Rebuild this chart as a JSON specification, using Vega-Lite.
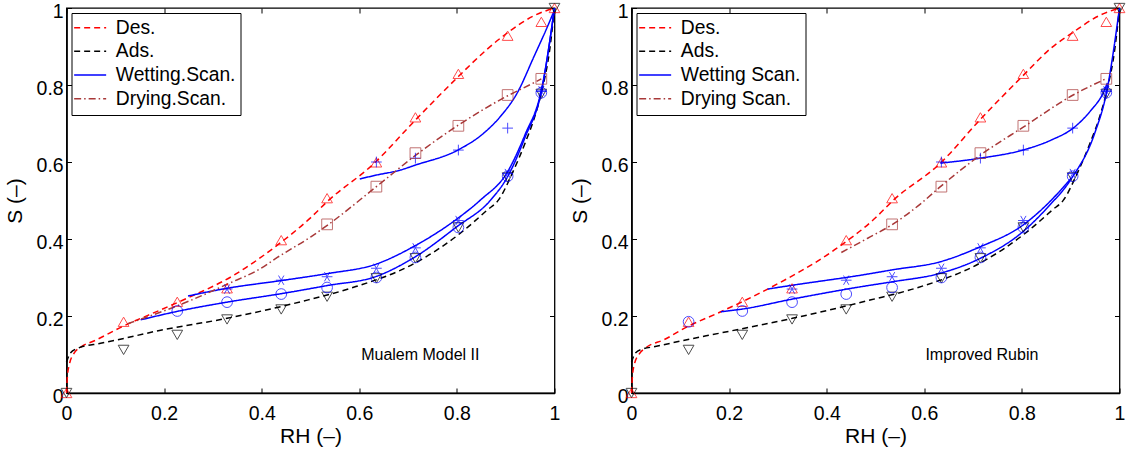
{
 "$schema": "https://vega.github.io/schema/vega-lite/v6.json",
 "background": "white",
 "padding": {"left": 3.5, "top": 0, "right": 5, "bottom": 0},
 "config": {
  "font": "Liberation Sans",
  "view": {"stroke": "black", "strokeWidth": 1.3},
  "axis": {"grid": false, "domainColor": "black", "domainWidth": 1.6, "tickColor": "black", "tickWidth": 1, "tickSize": -5, "labelColor": "black", "labelFontSize": 19.5, "labelFont": "Liberation Sans", "titleFont": "Liberation Sans", "titleFontSize": 21, "titleFontWeight": "normal", "titleColor": "black", "labelFlush": false, "labelOverlap": false},
  "legend": {"orient": "top-left", "offset": 5, "padding": 5, "strokeColor": "black", "fillColor": "white", "cornerRadius": 0, "labelFontSize": 19.3, "labelFont": "Liberation Sans", "labelColor": "black", "labelLimit": 400, "rowPadding": 3.7, "symbolStrokeWidth": 1.5}
 },
 "datasets": {
  "lines": [
   {"p":"L","s":"Des.","c":"d","x":0,"y":0},{"p":"L","s":"Des.","c":"d","x":0.002,"y":0.045},{"p":"L","s":"Des.","c":"d","x":0.006,"y":0.075},{"p":"L","s":"Des.","c":"d","x":0.015,"y":0.102},{"p":"L","s":"Des.","c":"d","x":0.03,"y":0.12},{"p":"L","s":"Des.","c":"d","x":0.056,"y":0.135},{"p":"L","s":"Des.","c":"d","x":0.117,"y":0.174},{"p":"L","s":"Des.","c":"d","x":0.193,"y":0.216},{"p":"L","s":"Des.","c":"d","x":0.247,"y":0.246},{"p":"L","s":"Des.","c":"d","x":0.343,"y":0.306},{"p":"L","s":"Des.","c":"d","x":0.432,"y":0.384},{"p":"L","s":"Des.","c":"d","x":0.5,"y":0.455},{"p":"L","s":"Des.","c":"d","x":0.534,"y":0.497},{"p":"L","s":"Des.","c":"d","x":0.63,"y":0.596},{"p":"L","s":"Des.","c":"d","x":0.715,"y":0.709},{"p":"L","s":"Des.","c":"d","x":0.803,"y":0.822},{"p":"L","s":"Des.","c":"d","x":0.862,"y":0.893},{"p":"L","s":"Des.","c":"d","x":0.904,"y":0.936},{"p":"L","s":"Des.","c":"d","x":0.958,"y":0.98},{"p":"L","s":"Des.","c":"d","x":1,"y":1},
   {"p":"L","s":"Ads.","c":"a","x":0,"y":0.08},{"p":"L","s":"Ads.","c":"a","x":0.008,"y":0.104},{"p":"L","s":"Ads.","c":"a","x":0.025,"y":0.117},{"p":"L","s":"Ads.","c":"a","x":0.07,"y":0.129},{"p":"L","s":"Ads.","c":"a","x":0.104,"y":0.138},{"p":"L","s":"Ads.","c":"a","x":0.193,"y":0.163},{"p":"L","s":"Ads.","c":"a","x":0.329,"y":0.194},{"p":"L","s":"Ads.","c":"a","x":0.48,"y":0.237},{"p":"L","s":"Ads.","c":"a","x":0.582,"y":0.272},{"p":"L","s":"Ads.","c":"a","x":0.715,"y":0.338},{"p":"L","s":"Ads.","c":"a","x":0.807,"y":0.415},{"p":"L","s":"Ads.","c":"a","x":0.862,"y":0.475},{"p":"L","s":"Ads.","c":"a","x":0.885,"y":0.501},{"p":"L","s":"Ads.","c":"a","x":0.915,"y":0.575},{"p":"L","s":"Ads.","c":"a","x":0.94,"y":0.65},{"p":"L","s":"Ads.","c":"a","x":0.96,"y":0.72},{"p":"L","s":"Ads.","c":"a","x":0.975,"y":0.79},{"p":"L","s":"Ads.","c":"a","x":0.99,"y":0.89},{"p":"L","s":"Ads.","c":"a","x":1,"y":1},
   {"p":"L","s":"Wetting.Scan.","c":"w1","x":0.152,"y":0.19},{"p":"L","s":"Wetting.Scan.","c":"w1","x":0.227,"y":0.212},{"p":"L","s":"Wetting.Scan.","c":"w1","x":0.329,"y":0.236},{"p":"L","s":"Wetting.Scan.","c":"w1","x":0.44,"y":0.258},{"p":"L","s":"Wetting.Scan.","c":"w1","x":0.534,"y":0.279},{"p":"L","s":"Wetting.Scan.","c":"w1","x":0.635,"y":0.303},{"p":"L","s":"Wetting.Scan.","c":"w1","x":0.715,"y":0.354},{"p":"L","s":"Wetting.Scan.","c":"w1","x":0.8,"y":0.432},{"p":"L","s":"Wetting.Scan.","c":"w1","x":0.869,"y":0.501},{"p":"L","s":"Wetting.Scan.","c":"w1","x":0.904,"y":0.562},{"p":"L","s":"Wetting.Scan.","c":"w1","x":0.94,"y":0.665},{"p":"L","s":"Wetting.Scan.","c":"w1","x":0.973,"y":0.782},{"p":"L","s":"Wetting.Scan.","c":"w1","x":1,"y":1},
   {"p":"L","s":"Wetting.Scan.","c":"w2","x":0.249,"y":0.252},{"p":"L","s":"Wetting.Scan.","c":"w2","x":0.329,"y":0.272},{"p":"L","s":"Wetting.Scan.","c":"w2","x":0.44,"y":0.292},{"p":"L","s":"Wetting.Scan.","c":"w2","x":0.534,"y":0.31},{"p":"L","s":"Wetting.Scan.","c":"w2","x":0.635,"y":0.335},{"p":"L","s":"Wetting.Scan.","c":"w2","x":0.715,"y":0.383},{"p":"L","s":"Wetting.Scan.","c":"w2","x":0.8,"y":0.452},{"p":"L","s":"Wetting.Scan.","c":"w2","x":0.848,"y":0.501},{"p":"L","s":"Wetting.Scan.","c":"w2","x":0.904,"y":0.575},{"p":"L","s":"Wetting.Scan.","c":"w2","x":0.94,"y":0.672},{"p":"L","s":"Wetting.Scan.","c":"w2","x":0.973,"y":0.786},{"p":"L","s":"Wetting.Scan.","c":"w2","x":1,"y":1},
   {"p":"L","s":"Wetting.Scan.","c":"w3","x":0.601,"y":0.556},{"p":"L","s":"Wetting.Scan.","c":"w3","x":0.635,"y":0.566},{"p":"L","s":"Wetting.Scan.","c":"w3","x":0.684,"y":0.579},{"p":"L","s":"Wetting.Scan.","c":"w3","x":0.715,"y":0.592},{"p":"L","s":"Wetting.Scan.","c":"w3","x":0.802,"y":0.631},{"p":"L","s":"Wetting.Scan.","c":"w3","x":0.855,"y":0.675},{"p":"L","s":"Wetting.Scan.","c":"w3","x":0.889,"y":0.718},{"p":"L","s":"Wetting.Scan.","c":"w3","x":0.923,"y":0.778},{"p":"L","s":"Wetting.Scan.","c":"w3","x":0.958,"y":0.874},{"p":"L","s":"Wetting.Scan.","c":"w3","x":0.985,"y":0.95},{"p":"L","s":"Wetting.Scan.","c":"w3","x":1,"y":0.995},
   {"p":"L","s":"Drying.Scan.","c":"dr","x":0.125,"y":0.18},{"p":"L","s":"Drying.Scan.","c":"dr","x":0.24,"y":0.233},{"p":"L","s":"Drying.Scan.","c":"dr","x":0.33,"y":0.283},{"p":"L","s":"Drying.Scan.","c":"dr","x":0.4,"y":0.325},{"p":"L","s":"Drying.Scan.","c":"dr","x":0.432,"y":0.352},{"p":"L","s":"Drying.Scan.","c":"dr","x":0.5,"y":0.405},{"p":"L","s":"Drying.Scan.","c":"dr","x":0.535,"y":0.436},{"p":"L","s":"Drying.Scan.","c":"dr","x":0.635,"y":0.536},{"p":"L","s":"Drying.Scan.","c":"dr","x":0.715,"y":0.617},{"p":"L","s":"Drying.Scan.","c":"dr","x":0.802,"y":0.695},{"p":"L","s":"Drying.Scan.","c":"dr","x":0.904,"y":0.772},{"p":"L","s":"Drying.Scan.","c":"dr","x":0.958,"y":0.806},{"p":"L","s":"Drying.Scan.","c":"dr","x":0.973,"y":0.816},
   {"p":"R","s":"Des.","c":"d","x":0,"y":0},{"p":"R","s":"Des.","c":"d","x":0.002,"y":0.045},{"p":"R","s":"Des.","c":"d","x":0.006,"y":0.075},{"p":"R","s":"Des.","c":"d","x":0.015,"y":0.1},{"p":"R","s":"Des.","c":"d","x":0.03,"y":0.118},{"p":"R","s":"Des.","c":"d","x":0.066,"y":0.138},{"p":"R","s":"Des.","c":"d","x":0.114,"y":0.172},{"p":"R","s":"Des.","c":"d","x":0.183,"y":0.211},{"p":"R","s":"Des.","c":"d","x":0.279,"y":0.27},{"p":"R","s":"Des.","c":"d","x":0.415,"y":0.371},{"p":"R","s":"Des.","c":"d","x":0.5,"y":0.455},{"p":"R","s":"Des.","c":"d","x":0.535,"y":0.499},{"p":"R","s":"Des.","c":"d","x":0.633,"y":0.597},{"p":"R","s":"Des.","c":"d","x":0.715,"y":0.711},{"p":"R","s":"Des.","c":"d","x":0.802,"y":0.824},{"p":"R","s":"Des.","c":"d","x":0.86,"y":0.896},{"p":"R","s":"Des.","c":"d","x":0.905,"y":0.937},{"p":"R","s":"Des.","c":"d","x":0.958,"y":0.98},{"p":"R","s":"Des.","c":"d","x":1,"y":1},
   {"p":"R","s":"Ads.","c":"a","x":0,"y":0.08},{"p":"R","s":"Ads.","c":"a","x":0.008,"y":0.104},{"p":"R","s":"Ads.","c":"a","x":0.025,"y":0.115},{"p":"R","s":"Ads.","c":"a","x":0.046,"y":0.12},{"p":"R","s":"Ads.","c":"a","x":0.104,"y":0.136},{"p":"R","s":"Ads.","c":"a","x":0.183,"y":0.156},{"p":"R","s":"Ads.","c":"a","x":0.33,"y":0.194},{"p":"R","s":"Ads.","c":"a","x":0.491,"y":0.242},{"p":"R","s":"Ads.","c":"a","x":0.582,"y":0.272},{"p":"R","s":"Ads.","c":"a","x":0.715,"y":0.338},{"p":"R","s":"Ads.","c":"a","x":0.807,"y":0.415},{"p":"R","s":"Ads.","c":"a","x":0.862,"y":0.475},{"p":"R","s":"Ads.","c":"a","x":0.885,"y":0.501},{"p":"R","s":"Ads.","c":"a","x":0.915,"y":0.575},{"p":"R","s":"Ads.","c":"a","x":0.94,"y":0.65},{"p":"R","s":"Ads.","c":"a","x":0.96,"y":0.72},{"p":"R","s":"Ads.","c":"a","x":0.975,"y":0.79},{"p":"R","s":"Ads.","c":"a","x":0.99,"y":0.89},{"p":"R","s":"Ads.","c":"a","x":1,"y":1},
   {"p":"R","s":"Wetting Scan.","c":"w1","x":0.183,"y":0.211},{"p":"R","s":"Wetting Scan.","c":"w1","x":0.227,"y":0.218},{"p":"R","s":"Wetting Scan.","c":"w1","x":0.33,"y":0.244},{"p":"R","s":"Wetting Scan.","c":"w1","x":0.47,"y":0.276},{"p":"R","s":"Wetting Scan.","c":"w1","x":0.535,"y":0.289},{"p":"R","s":"Wetting Scan.","c":"w1","x":0.633,"y":0.311},{"p":"R","s":"Wetting Scan.","c":"w1","x":0.715,"y":0.35},{"p":"R","s":"Wetting Scan.","c":"w1","x":0.802,"y":0.419},{"p":"R","s":"Wetting Scan.","c":"w1","x":0.854,"y":0.484},{"p":"R","s":"Wetting Scan.","c":"w1","x":0.901,"y":0.556},{"p":"R","s":"Wetting Scan.","c":"w1","x":0.949,"y":0.674},{"p":"R","s":"Wetting Scan.","c":"w1","x":0.973,"y":0.778},{"p":"R","s":"Wetting Scan.","c":"w1","x":1,"y":1},
   {"p":"R","s":"Wetting Scan.","c":"w2","x":0.279,"y":0.27},{"p":"R","s":"Wetting Scan.","c":"w2","x":0.33,"y":0.28},{"p":"R","s":"Wetting Scan.","c":"w2","x":0.47,"y":0.306},{"p":"R","s":"Wetting Scan.","c":"w2","x":0.535,"y":0.32},{"p":"R","s":"Wetting Scan.","c":"w2","x":0.633,"y":0.341},{"p":"R","s":"Wetting Scan.","c":"w2","x":0.715,"y":0.38},{"p":"R","s":"Wetting Scan.","c":"w2","x":0.802,"y":0.436},{"p":"R","s":"Wetting Scan.","c":"w2","x":0.854,"y":0.493},{"p":"R","s":"Wetting Scan.","c":"w2","x":0.901,"y":0.558},
   {"p":"R","s":"Wetting Scan.","c":"w3","x":0.633,"y":0.597},{"p":"R","s":"Wetting Scan.","c":"w3","x":0.715,"y":0.61},{"p":"R","s":"Wetting Scan.","c":"w3","x":0.802,"y":0.631},{"p":"R","s":"Wetting Scan.","c":"w3","x":0.86,"y":0.657},{"p":"R","s":"Wetting Scan.","c":"w3","x":0.905,"y":0.688},{"p":"R","s":"Wetting Scan.","c":"w3","x":0.942,"y":0.735},{"p":"R","s":"Wetting Scan.","c":"w3","x":0.966,"y":0.778},{"p":"R","s":"Wetting Scan.","c":"w3","x":0.975,"y":0.805},
   {"p":"R","s":"Drying Scan.","c":"dr","x":0.43,"y":0.365},{"p":"R","s":"Drying Scan.","c":"dr","x":0.484,"y":0.402},{"p":"R","s":"Drying Scan.","c":"dr","x":0.535,"y":0.438},{"p":"R","s":"Drying Scan.","c":"dr","x":0.593,"y":0.492},{"p":"R","s":"Drying Scan.","c":"dr","x":0.633,"y":0.536},{"p":"R","s":"Drying Scan.","c":"dr","x":0.715,"y":0.618},{"p":"R","s":"Drying Scan.","c":"dr","x":0.802,"y":0.69},{"p":"R","s":"Drying Scan.","c":"dr","x":0.905,"y":0.774},{"p":"R","s":"Drying Scan.","c":"dr","x":0.972,"y":0.816}
  ],
  "points": [
   {"m":"des","x":0,"y":0},{"m":"des","x":0.117,"y":0.185},{"m":"des","x":0.227,"y":0.237},{"m":"des","x":0.329,"y":0.272},{"m":"des","x":0.44,"y":0.397},{"m":"des","x":0.534,"y":0.506},{"m":"des","x":0.635,"y":0.599},{"m":"des","x":0.715,"y":0.716},{"m":"des","x":0.803,"y":0.829},{"m":"des","x":0.904,"y":0.928},{"m":"des","x":0.973,"y":0.964},{"m":"des","x":1,"y":1},
   {"m":"ads","x":0,"y":0},{"m":"ads","x":0.117,"y":0.112},{"m":"ads","x":0.227,"y":0.151},{"m":"ads","x":0.329,"y":0.191},{"m":"ads","x":0.44,"y":0.217},{"m":"ads","x":0.534,"y":0.25},{"m":"ads","x":0.635,"y":0.298},{"m":"ads","x":0.715,"y":0.35},{"m":"ads","x":0.803,"y":0.43},{"m":"ads","x":0.904,"y":0.56},{"m":"ads","x":0.973,"y":0.777},{"m":"ads","x":1,"y":1},
   {"m":"circ","x":0.227,"y":0.213},{"m":"circ","x":0.329,"y":0.236},{"m":"circ","x":0.44,"y":0.257},{"m":"circ","x":0.534,"y":0.274},{"m":"circ","x":0.635,"y":0.3},{"m":"circ","x":0.715,"y":0.352},{"m":"circ","x":0.803,"y":0.43},{"m":"circ","x":0.904,"y":0.563},{"m":"circ","x":0.973,"y":0.78},
   {"m":"star","x":0.329,"y":0.27},{"m":"star","x":0.44,"y":0.293},{"m":"star","x":0.534,"y":0.302},{"m":"star","x":0.635,"y":0.324},{"m":"star","x":0.715,"y":0.377},{"m":"star","x":0.803,"y":0.448},{"m":"star","x":0.904,"y":0.57},{"m":"star","x":0.973,"y":0.785},
   {"m":"plus","x":0.635,"y":0.6},{"m":"plus","x":0.715,"y":0.61},{"m":"plus","x":0.803,"y":0.631},{"m":"plus","x":0.904,"y":0.688},{"m":"plus","x":0.973,"y":0.783},
   {"m":"sq","x":0.534,"y":0.438},{"m":"sq","x":0.635,"y":0.536},{"m":"sq","x":0.715,"y":0.623},{"m":"sq","x":0.803,"y":0.694},{"m":"sq","x":0.904,"y":0.774},{"m":"sq","x":0.973,"y":0.816}
  ],
  "extra": [
   {"m":"circ","x":0.117,"y":0.185}
  ],
  "labelL": [{"x": 0.725, "y": 0.099, "t": "Mualem Model II"}],
  "labelR": [{"x": 0.718, "y": 0.099, "t": "Improved Rubin"}]
 },
 "hconcat": [
  {
   "width": 488, "height": 385,
   "resolve": {"scale": {"x": "independent", "y": "independent"}},
   "layer": [
    {
     "layer": [
      {
       "data": {"name": "lines"},
       "transform": [{"filter": "datum.p === 'L'"}],
       "mark": {"type": "line", "interpolate": "monotone", "strokeWidth": 1.5},
       "encoding": {
        "x": {"field": "x", "type": "quantitative", "scale": {"domain": [0, 1], "nice": false}, "axis": {"values": [0, 0.2, 0.4, 0.6, 0.8, 1], "format": "~g", "title": "RH (–)", "labelPadding": 16.6, "titlePadding": 2.5}},
        "y": {"field": "y", "type": "quantitative", "scale": {"domain": [0, 1], "nice": false}, "axis": {"values": [0, 0.2, 0.4, 0.6, 0.8, 1], "format": "~g", "title": "S (–)", "labelPadding": 8.3, "labelOffset": 3.5, "titlePadding": 10.5}},
        "color": {"field": "s", "type": "nominal", "scale": {"domain": ["Des.", "Ads.", "Wetting.Scan.", "Drying.Scan."], "range": ["#FF0000", "#000000", "#0000FF", "#A83838"]}, "legend": {"title": null, "symbolType": "M-2,0L2,0", "symbolSize": 256, "symbolOffset": 4, "labelOffset": 16}},
        "strokeDash": {"field": "s", "type": "nominal", "scale": {"domain": ["Des.", "Ads.", "Wetting.Scan.", "Drying.Scan."], "range": [[6, 4], [6, 4], [1, 0], [7, 3, 1.5, 3]]}, "legend": {"title": null, "symbolType": "M-2,0L2,0", "symbolSize": 256, "symbolOffset": 4, "labelOffset": 16}},
        "detail": {"field": "c"}
       }
      },
      {
       "data": {"name": "points"},
       "mark": {"type": "point", "filled": false, "strokeWidth": 1, "size": 115, "clip": false},
       "encoding": {
        "x": {"field": "x", "type": "quantitative"},
        "y": {"field": "y", "type": "quantitative"},
        "shape": {"field": "m", "type": "nominal", "scale": {"domain": ["des", "ads", "circ", "star", "plus", "sq"], "range": ["triangle-up", "triangle-down", "circle", "M-1,0L1,0M-0.5,-0.866L0.5,0.866M-0.5,0.866L0.5,-0.866", "M-1,0L1,0M0,-1L0,1", "square"]}, "legend": null},
        "stroke": {"field": "m", "type": "nominal", "scale": {"domain": ["des", "ads", "circ", "star", "plus", "sq"], "range": ["#FF0000", "#000000", "#0000FF", "#0000FF", "#0000FF", "#A83838"]}, "legend": null}
       }
      }
     ]
    },
    {
     "data": {"name": "labelL"},
     "mark": {"type": "text", "fontSize": 16, "font": "Liberation Sans", "color": "black"},
     "encoding": {
      "x": {"field": "x", "type": "quantitative", "scale": {"domain": [0, 1], "nice": false}, "axis": {"orient": "top", "labels": false, "title": null, "domain": false, "values": [0, 0.2, 0.4, 0.6, 0.8, 1]}},
      "y": {"field": "y", "type": "quantitative", "scale": {"domain": [0, 1], "nice": false}, "axis": {"orient": "right", "labels": false, "title": null, "domain": false, "values": [0, 0.2, 0.4, 0.6, 0.8, 1]}},
      "text": {"field": "t"}
     }
    }
   ]
  },
  {
   "width": 488, "height": 385,
   "resolve": {"scale": {"x": "independent", "y": "independent"}},
   "layer": [
    {
     "layer": [
      {
       "data": {"name": "lines"},
       "transform": [{"filter": "datum.p === 'R'"}],
       "mark": {"type": "line", "interpolate": "monotone", "strokeWidth": 1.5},
       "encoding": {
        "x": {"field": "x", "type": "quantitative", "scale": {"domain": [0, 1], "nice": false}, "axis": {"values": [0, 0.2, 0.4, 0.6, 0.8, 1], "format": "~g", "title": "RH (–)", "labelPadding": 16.6, "titlePadding": 2.5}},
        "y": {"field": "y", "type": "quantitative", "scale": {"domain": [0, 1], "nice": false}, "axis": {"values": [0, 0.2, 0.4, 0.6, 0.8, 1], "format": "~g", "title": "S (–)", "labelPadding": 8.3, "labelOffset": 3.5, "titlePadding": 10.5}},
        "color": {"field": "s", "type": "nominal", "scale": {"domain": ["Des.", "Ads.", "Wetting Scan.", "Drying Scan."], "range": ["#FF0000", "#000000", "#0000FF", "#A83838"]}, "legend": {"title": null, "symbolType": "M-2,0L2,0", "symbolSize": 256, "symbolOffset": 4, "labelOffset": 16}},
        "strokeDash": {"field": "s", "type": "nominal", "scale": {"domain": ["Des.", "Ads.", "Wetting Scan.", "Drying Scan."], "range": [[6, 4], [6, 4], [1, 0], [7, 3, 1.5, 3]]}, "legend": {"title": null, "symbolType": "M-2,0L2,0", "symbolSize": 256, "symbolOffset": 4, "labelOffset": 16}},
        "detail": {"field": "c"}
       }
      },
      {
       "data": {"name": "points"},
       "mark": {"type": "point", "filled": false, "strokeWidth": 1, "size": 115, "clip": false},
       "encoding": {
        "x": {"field": "x", "type": "quantitative"},
        "y": {"field": "y", "type": "quantitative"},
        "shape": {"field": "m", "type": "nominal", "scale": {"domain": ["des", "ads", "circ", "star", "plus", "sq"], "range": ["triangle-up", "triangle-down", "circle", "M-1,0L1,0M-0.5,-0.866L0.5,0.866M-0.5,0.866L0.5,-0.866", "M-1,0L1,0M0,-1L0,1", "square"]}, "legend": null},
        "stroke": {"field": "m", "type": "nominal", "scale": {"domain": ["des", "ads", "circ", "star", "plus", "sq"], "range": ["#FF0000", "#000000", "#0000FF", "#0000FF", "#0000FF", "#A83838"]}, "legend": null}
       }
      },
      {
       "data": {"name": "extra"},
       "mark": {"type": "point", "filled": false, "strokeWidth": 1, "size": 115, "clip": false, "shape": "circle", "stroke": "#0000FF"},
       "encoding": {
        "x": {"field": "x", "type": "quantitative"},
        "y": {"field": "y", "type": "quantitative"}
       }
      }
     ]
    },
    {
     "data": {"name": "labelR"},
     "mark": {"type": "text", "fontSize": 16, "font": "Liberation Sans", "color": "black"},
     "encoding": {
      "x": {"field": "x", "type": "quantitative", "scale": {"domain": [0, 1], "nice": false}, "axis": {"orient": "top", "labels": false, "title": null, "domain": false, "values": [0, 0.2, 0.4, 0.6, 0.8, 1]}},
      "y": {"field": "y", "type": "quantitative", "scale": {"domain": [0, 1], "nice": false}, "axis": {"orient": "right", "labels": false, "title": null, "domain": false, "values": [0, 0.2, 0.4, 0.6, 0.8, 1]}},
      "text": {"field": "t"}
     }
    }
   ]
  }
 ],
 "spacing": 77,
 "bounds": "flush",
 "resolve": {"scale": {"x": "independent", "y": "independent", "color": "independent", "strokeDash": "independent", "shape": "independent", "stroke": "independent"}}
}
